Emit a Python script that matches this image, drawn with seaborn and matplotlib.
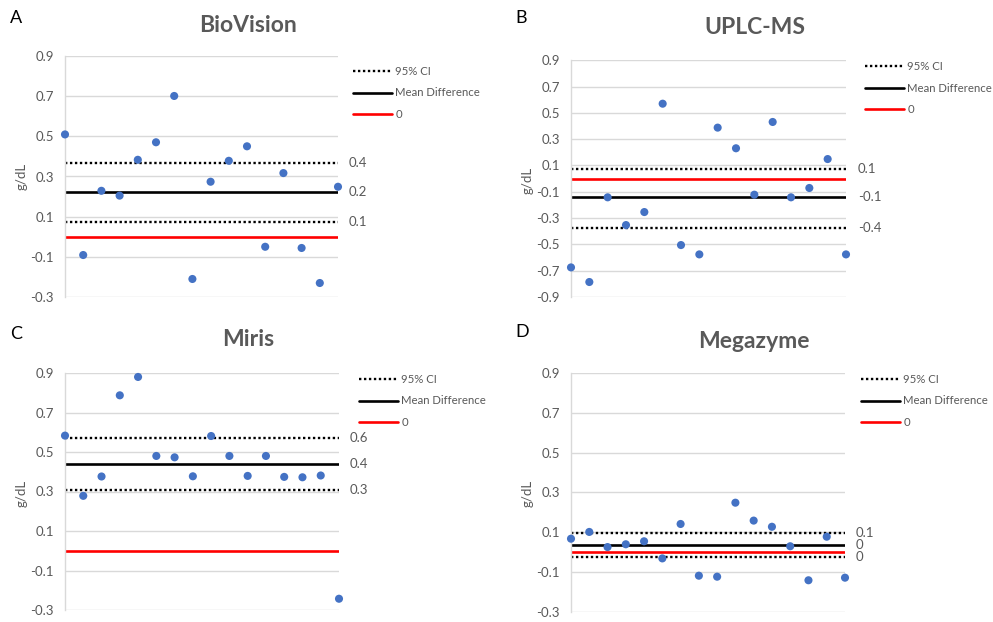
import numpy as np
import pandas as pd
import matplotlib
matplotlib.use("Agg")
import matplotlib.pyplot as plt
import matplotlib.transforms as mtransforms
from matplotlib.lines import Line2D
import seaborn as sns

sns.set_theme(style="white")
plt.rcParams['font.family'] = ['Lato', 'DejaVu Sans']

# ---------------- data ----------------
panel_letters = ["A", "B", "C", "D"]
titles = ["BioVision", "UPLC-MS", "Miris", "Megazyme"]
sample_ids = list(range(1, 17))

biovision = [0.509, -0.090, 0.229, 0.205, 0.383, 0.470, 0.700, -0.209,
             0.274, 0.378, 0.450, -0.049, 0.317, -0.055, -0.229, 0.249]
uplc_ms = [-0.675, -0.786, -0.142, -0.353, -0.254, 0.570, -0.505, -0.576,
           0.388, 0.231, -0.122, 0.431, -0.142, -0.071, 0.149, -0.576]
miris = [0.583, 0.278, 0.376, 0.787, 0.880, 0.480, 0.473, 0.377,
         0.581, 0.480, 0.379, 0.480, 0.374, 0.372, 0.381, -0.243]
megazyme = [0.067, 0.101, 0.025, 0.039, 0.054, -0.032, 0.141, -0.119,
            -0.124, 0.248, 0.158, 0.127, 0.029, -0.142, 0.077, -0.129]
series = [biovision, uplc_ms, miris, megazyme]

mean_diff = [0.221, -0.142, 0.440, 0.034]
ci_upper = [0.367, 0.073, 0.569, 0.096]
ci_lower = [0.076, -0.375, 0.310, -0.027]
# printed value labels: (upper CI, mean, lower CI)
value_labels = [["0.4", "0.2", "0.1"], ["0.1", "-0.1", "-0.4"],
                ["0.6", "0.4", "0.3"], ["0.1", "0", "0"]]

yticks_std = [-0.3, -0.1, 0.1, 0.3, 0.5, 0.7, 0.9]
yticks_b = [-0.9, -0.7, -0.5, -0.3, -0.1, 0.1, 0.3, 0.5, 0.7, 0.9]
yticks = [yticks_std, yticks_b, yticks_std, yticks_std]
legend_labels = ["95% CI", "Mean Difference", "0"]

# ---------------- layout (pixels) ----------------
W, H = 993, 622
# left, right, top, bottom of plotting areas
axes_px = [(65, 338, 55.7, 297.3), (571, 846, 60.3, 297.0),
           (65, 339, 373.0, 610.0), (571, 845, 373.0, 611.7)]
letter_px = [(10, 18), (515, 18), (10, 334), (515, 332)]
title_px = [(248, 26), (755, 27), (248, 340), (754, 341)]
ylabel_px = [(22, 176), (528, 180), (22, 493), (528, 493)]
legend_px = [(353, 93), (865, 88), (359, 401), (861, 401)]
vlabel_x_px = [349, 858, 350, 856]

GRAY = "#595959"
GRID = "#D9D9D9"
BLUE = "#4472C4"

fig = plt.figure(figsize=(W / 100, H / 100), dpi=100)
fig.patch.set_facecolor("white")

for i in range(4):
    l, r, t, b = axes_px[i]
    ax = fig.add_axes([l / W, 1 - b / H, (r - l) / W, (b - t) / H])
    df = pd.DataFrame({"sample": sample_ids, "diff": series[i]})

    ax.set_ylim(yticks[i][0], yticks[i][-1])
    ax.set_xlim(1, 16)
    ax.set_yticks(yticks[i])
    ax.set_yticklabels([f"{v:.1f}" for v in yticks[i]])
    ax.set_xticks([])
    ax.yaxis.grid(True, color=GRID, lw=1)
    ax.set_axisbelow(True)
    for s in ["top", "right", "bottom"]:
        ax.spines[s].set_visible(False)
    ax.spines["left"].set_color(GRID)
    ax.spines["left"].set_linewidth(1)
    ax.tick_params(axis="y", length=0, pad=8, labelsize=9.5, labelcolor=GRAY)

    ax.axhline(ci_upper[i], color="black", lw=1.7, ls=(0, (1, 1.1)), zorder=2)
    ax.axhline(ci_lower[i], color="black", lw=1.7, ls=(0, (1, 1.1)), zorder=2)
    ax.axhline(mean_diff[i], color="black", lw=1.9, zorder=2)
    ax.axhline(0, color="#FF0000", lw=1.9, zorder=2)

    sns.scatterplot(data=df, x="sample", y="diff", ax=ax, color=BLUE, s=34,
                    edgecolor="none", zorder=3, clip_on=False, legend=False)
    ax.set_xlabel("")
    ax.set_ylabel("")

    # value labels to the right of the lines
    trans = mtransforms.blended_transform_factory(fig.transFigure, ax.transData)
    for val, lab in zip([ci_upper[i], mean_diff[i], ci_lower[i]], value_labels[i]):
        ax.text(vlabel_x_px[i] / W, val, lab, transform=trans, ha="left",
                va="center", fontsize=9.5, color=GRAY)

    handles = [Line2D([], [], color="black", lw=1.7, ls=(0, (1, 1.1))),
               Line2D([], [], color="black", lw=1.9),
               Line2D([], [], color="#FF0000", lw=1.9)]
    lx, ly = legend_px[i]
    leg = ax.legend(handles, legend_labels, loc="center left",
                    bbox_to_anchor=(lx / W, 1 - ly / H),
                    bbox_transform=fig.transFigure, frameon=False,
                    fontsize=8.2, handlelength=3.4, handletextpad=0.3,
                    labelspacing=0.9, borderpad=0, borderaxespad=0)
    for txt in leg.get_texts():
        txt.set_color(GRAY)

    fig.text(letter_px[i][0] / W, 1 - letter_px[i][1] / H, panel_letters[i],
             fontsize=13, color="black", ha="left", va="center")
    fig.text(title_px[i][0] / W, 1 - title_px[i][1] / H, titles[i],
             fontsize=16.5, fontweight="bold", color=GRAY, ha="center", va="center")
    fig.text(ylabel_px[i][0] / W, 1 - ylabel_px[i][1] / H, "g/dL",
             fontsize=9.5, color=GRAY, rotation=90, ha="center", va="center")

fig.savefig("out.png", dpi=100, facecolor="white")
